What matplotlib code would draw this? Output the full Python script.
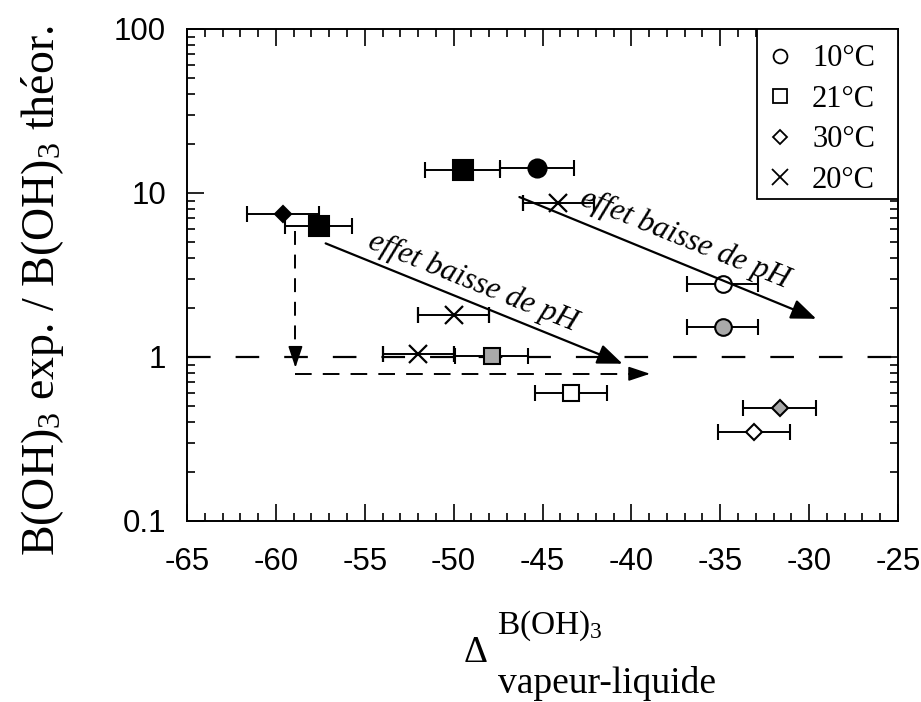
import numpy as np
import matplotlib
matplotlib.use('Agg')
import matplotlib.pyplot as plt
from matplotlib.lines import Line2D
from matplotlib.patches import Rectangle
from matplotlib.ticker import FixedLocator, FuncFormatter, LogLocator, MultipleLocator, NullFormatter

plt.rcParams['mathtext.fontset'] = 'custom'
plt.rcParams['mathtext.rm'] = 'Liberation Serif'
plt.rcParams['mathtext.it'] = 'Liberation Serif:italic'
plt.rcParams['lines.scale_dashes'] = False
plt.rcParams['axes.unicode_minus'] = False

# ---------------- data ----------------
# 10°C (circles)
c10_x = [-45.3, -34.85, -34.85]
c10_y = [14.3, 1.53, 2.8]
c10_err = [2.1, 2.0, 2.0]
c10_state = ['filled', 'gray', 'open']
# 21°C (squares)
c21_x = [-49.5, -57.6, -47.85, -43.4]
c21_y = [13.8, 6.3, 1.02, 0.60]
c21_err = [2.1, 1.9, 2.05, 2.05]
c21_state = ['filled', 'filled', 'gray', 'open']
# 30°C (diamonds)
c30_x = [-59.6, -31.65, -33.1]
c30_y = [7.4, 0.49, 0.35]
c30_err = [2.0, 2.05, 2.0]
c30_state = ['filled', 'gray', 'open']
# 20°C (crosses)
c20_x = [-44.1, -50.0, -52.0]
c20_y = [8.7, 1.8, 1.05]
c20_err = [2.0, 2.0, 2.0]

legend_labels = ['10°C', '21°C', '30°C', '20°C']
x_ticks = [-65, -60, -55, -50, -45, -40, -35, -30, -25]
y_ticks = [0.1, 1, 10, 100]

# annotation arrows "effet baisse de pH"
arrow1_start = (-57.2, 4.93)
arrow1_end = (-40.5, 0.91)
arrow2_start = (-46.3, 9.45)
arrow2_end = (-29.6, 1.71)
arrow_text = 'effet baisse de pH'
text1_pos = (-48.9, 2.85)
text2_pos = (-37.0, 5.2)
# dashed path arrows
dash_x = -58.9
dash_top = 5.9
dash_tip = 0.86
hdash_y = 0.79
hdash_end = -38.95

# ---------------- figure ----------------
fig = plt.figure(figsize=(9.21, 7.02), dpi=100)
W, H = 921, 702
ax = fig.add_axes([187 / W, 1 - 521 / H, (898 - 187) / W, (521 - 29) / H])
ax.set_yscale('log')
ax.set_xlim(-65, -25)
ax.set_ylim(0.1, 100)

fill_map = {'filled': 'black', 'gray': '#a9a9a9', 'open': 'white'}

def draw(xs, ys, errs, states, marker, ms_big, ms_small):
    for x, y, e, s in zip(xs, ys, errs, states):
        ms = ms_big if s == 'filled' else ms_small
        ax.errorbar([x], [y], xerr=[e], fmt=marker, ms=ms, mfc=fill_map[s],
                    mec='black', mew=1.5, ecolor='black', elinewidth=1.4,
                    capsize=6, capthick=1.4, zorder=5)

draw(c10_x, c10_y, c10_err, c10_state, 'o', 13, 12)
draw(c21_x, c21_y, c21_err, c21_state, 's', 15, 11.5)
draw(c30_x, c30_y, c30_err, c30_state, 'D', 8.5, 8.3)
for x, y, e in zip(c20_x, c20_y, c20_err):
    ax.errorbar([x], [y], xerr=[e], fmt='x', ms=13, mec='black', mew=1.6,
                ecolor='black', elinewidth=1.4, capsize=6, capthick=1.4, zorder=5)

# horizontal reference line at 1
ax.axhline(1, color='black', lw=1.6, linestyle=(0, (17, 18)), zorder=2)

# solid arrows
for st, en in [(arrow1_start, arrow1_end), (arrow2_start, arrow2_end)]:
    ax.annotate('', xy=en, xytext=st,
                arrowprops=dict(arrowstyle='-|>,head_length=0.55,head_width=0.22',
                                color='black', lw=1.6, mutation_scale=28,
                                shrinkA=0, shrinkB=0), zorder=6)
for (tx, ty) in [text1_pos, text2_pos]:
    ax.text(tx, ty, arrow_text, rotation=-22, ha='center', va='center',
            rotation_mode='anchor', fontsize=22.5, style='italic',
            family='Liberation Serif', zorder=7)

# dashed arrows
ax.plot([dash_x, dash_x], [dash_top, dash_tip * 1.08], color='black', lw=1.4,
        linestyle=(0, (10, 7)), zorder=3)
ax.annotate('', xy=(dash_x, dash_tip), xytext=(dash_x, dash_tip * 1.09),
            arrowprops=dict(arrowstyle='-|>,head_length=0.6,head_width=0.2',
                            color='black', lw=1.2, mutation_scale=22,
                            shrinkA=0, shrinkB=0), zorder=6)
ax.plot([dash_x, hdash_end - 0.8], [hdash_y, hdash_y], color='black', lw=1.4,
        linestyle=(0, (12, 8)), zorder=3)
ax.annotate('', xy=(hdash_end, hdash_y), xytext=(hdash_end - 1.0, hdash_y),
            arrowprops=dict(arrowstyle='-|>,head_length=0.6,head_width=0.2',
                            color='black', lw=1.2, mutation_scale=22,
                            shrinkA=0, shrinkB=0), zorder=6)

# ticks
ax.xaxis.set_major_locator(FixedLocator(x_ticks))
ax.xaxis.set_minor_locator(MultipleLocator(1))
ax.yaxis.set_major_locator(FixedLocator(y_ticks))
ax.yaxis.set_minor_locator(LogLocator(base=10, subs=np.arange(2, 10)))
ax.yaxis.set_minor_formatter(NullFormatter())
ax.yaxis.set_major_formatter(FuncFormatter(lambda v, p: '%g' % v))
ax.tick_params(which='both', direction='in', top=True, right=True, width=1.2)
ax.tick_params(which='major', length=12)
ax.tick_params(which='minor', length=6)
ax.tick_params(axis='x', which='major', pad=19)
ax.tick_params(axis='y', which='major', pad=15)
for lab in ax.get_xticklabels() + ax.get_yticklabels():
    lab.set_family('Liberation Sans')
    lab.set_fontsize(22.5)
for sp in ax.spines.values():
    sp.set_linewidth(1.4)

# legend (frame drawn separately so it spans to the right spine)
handles = [
    Line2D([], [], marker='o', ls='none', ms=10, mfc='white', mec='black', mew=1.3),
    Line2D([], [], marker='s', ls='none', ms=10, mfc='white', mec='black', mew=1.3),
    Line2D([], [], marker='D', ls='none', ms=7.5, mfc='white', mec='black', mew=1.3),
    Line2D([], [], marker='x', ls='none', ms=11, mfc='white', mec='black', mew=1.3),
]
leg_left = (757 - 187) / 711
leg_bottom = (521 - 199) / 492
ax.add_patch(Rectangle((leg_left, leg_bottom), 1 - leg_left, 1 - leg_bottom,
                       transform=ax.transAxes, facecolor='white', edgecolor='black',
                       lw=1.3, zorder=9))
leg = ax.legend(handles, legend_labels, loc='upper left',
                bbox_to_anchor=(leg_left, 1.0), borderaxespad=0,
                frameon=False,
                prop={'family': 'Liberation Serif', 'size': 22},
                handlelength=0.5, handletextpad=0.8, borderpad=0.5,
                labelspacing=0.375)
leg.set_zorder(10)

# axis labels
fig.text(43 / W, 1 - 291 / H, 'B(OH)$_3$ exp. / B(OH)$_3$ théor.', rotation=90,
         ha='center', va='center', fontsize=33, family='Liberation Serif')
fig.text(476 / W, 1 - 653 / H, 'Δ', ha='center', va='center', fontsize=27,
         family='Liberation Serif')
fig.text(497 / W, 1 - 634 / H, 'B(OH)$_3$', ha='left', va='baseline', fontsize=24,
         family='Liberation Serif')
fig.text(498 / W, 1 - 693 / H, 'vapeur-liquide', ha='left', va='baseline',
         fontsize=27, family='Liberation Serif')

fig.savefig('out.png', dpi=100)
